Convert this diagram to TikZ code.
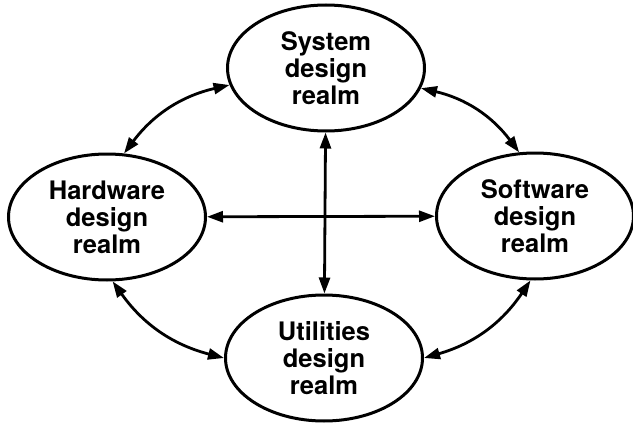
\documentclass[tikz,border=0pt]{standalone}
\usepackage{fontspec}
\setmainfont{TeX Gyre Heros}
\usetikzlibrary{shapes.geometric,arrows.meta}

\begin{document}
\begin{tikzpicture}[x=1pt,y=-1pt]
              \useasboundingbox (0,0) rectangle (633,423);

              \begin{scope}[every node/.style={ellipse,line width=3pt,draw,
                  minimum width=197pt,minimum height=126pt,inner sep=0pt,
                  align=center,font=\bfseries\fontsize{25.5}{27}\selectfont}]
                  \node (S) at (326,68) {System\\design\\realm};
                  \node (H) at (107,217) {Hardware\\design\\realm};
                  \node (W) at (535,216) {Software\\design\\realm};
                  \node (U) at (324,358) {Utilities\\design\\realm};
              \end{scope}

              \begin{scope}[line width=2.8pt,
                  >={Triangle[length=16pt,width=11pt]}]
                  \path [<->] (H.75) edge [bend left=20] (S.190);
                  \path [<->] (S.348) edge [bend left=20] (W.104);
                  \path [<->] (W.266) edge [bend left=20] (U.0);
                  \path [<->] (U.180) edge [bend left=20] (H.275);
                  \path [<->] (S) edge (U);
                  \path [<->] (H) edge (W);
              \end{scope}
              \end{tikzpicture}
\end{document}
